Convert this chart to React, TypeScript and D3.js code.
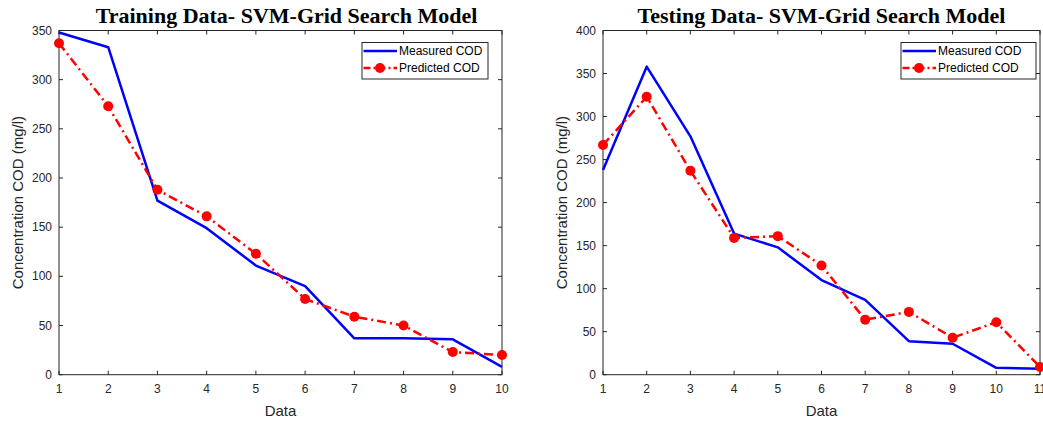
import React, { useEffect, useRef } from "react";
import * as d3 from "d3";

// values
const trainIdx = [1, 2, 3, 4, 5, 6, 7, 8, 9, 10];
const trainMeasured = [348, 333, 177, 149, 111, 90, 37, 37, 36, 8];
const trainPredicted = [337, 273, 188, 161, 123, 77, 59, 50, 23, 20];

const testIdx = [1, 2, 3, 4, 5, 6, 7, 8, 9, 10, 11];
const testMeasured = [238, 358, 277, 164, 148, 110, 87, 39, 36, 8, 7];
const testPredicted = [267, 323, 237, 159, 161, 127, 64, 73, 43, 61, 9];

const trainYTicks = [0, 50, 100, 150, 200, 250, 300, 350];
const testYTicks = [0, 50, 100, 150, 200, 250, 300, 350, 400];

const seriesNames = ["Measured COD", "Predicted COD"];

const SANS = "'Liberation Sans', Arial, sans-serif";
const SERIF = "'Liberation Serif', 'Times New Roman', serif";

type Panel = {
  title: string;
  idx: number[];
  measured: number[];
  predicted: number[];
  yMax: number;
  yTicks: number[];
  left: number;
  right: number;
};

const panels: Panel[] = [
  {
    title: "Training Data- SVM-Grid Search Model",
    idx: trainIdx,
    measured: trainMeasured,
    predicted: trainPredicted,
    yMax: 350,
    yTicks: trainYTicks,
    left: 59,
    right: 502,
  },
  {
    title: "Testing Data- SVM-Grid Search Model",
    idx: testIdx,
    measured: testMeasured,
    predicted: testPredicted,
    yMax: 400,
    yTicks: testYTicks,
    left: 603,
    right: 1040,
  },
];

const App = () => {
  const ref = useRef<SVGSVGElement>(null);

  useEffect(() => {
    const svg = d3.select(ref.current);
    svg.selectAll("*").remove();

    const top = 30.5;
    const bottom = 374.7;
    const axisColor = "#262626";

    panels.forEach((p, pi) => {
      const g = svg.append("g");
      const x = d3
        .scaleLinear()
        .domain([1, p.idx.length])
        .range([p.left, p.right]);
      const y = d3.scaleLinear().domain([0, p.yMax]).range([bottom, top]);

      // title
      g.append("text")
        .attr("x", (p.left + p.right) / 2 + (pi === 0 ? 6 : 0))
        .attr("y", 23)
        .attr("text-anchor", "middle")
        .style("font-family", SERIF)
        .style("font-weight", "bold")
        .style("font-size", "22px")
        .text(p.title);

      // box with inward ticks on all sides
      g.append("rect")
        .attr("x", p.left)
        .attr("y", top)
        .attr("width", p.right - p.left)
        .attr("height", bottom - top)
        .attr("fill", "white")
        .attr("stroke", axisColor)
        .attr("stroke-width", 1);

      const tl = 4;
      p.idx.forEach((d) => {
        g.append("line")
          .attr("x1", x(d)).attr("x2", x(d))
          .attr("y1", bottom).attr("y2", bottom - tl)
          .attr("stroke", axisColor);
        g.append("line")
          .attr("x1", x(d)).attr("x2", x(d))
          .attr("y1", top).attr("y2", top + tl)
          .attr("stroke", axisColor);
        g.append("text")
          .attr("x", x(d))
          .attr("y", bottom + 18)
          .attr("text-anchor", "middle")
          .style("font-family", SANS)
          .style("font-size", "12px")
          .attr("fill", axisColor)
          .text(d);
      });
      p.yTicks.forEach((d) => {
        g.append("line")
          .attr("x1", p.left).attr("x2", p.left + tl)
          .attr("y1", y(d)).attr("y2", y(d))
          .attr("stroke", axisColor);
        g.append("line")
          .attr("x1", p.right).attr("x2", p.right - tl)
          .attr("y1", y(d)).attr("y2", y(d))
          .attr("stroke", axisColor);
        g.append("text")
          .attr("x", p.left - 7)
          .attr("y", y(d) + 4)
          .attr("text-anchor", "end")
          .style("font-family", SANS)
          .style("font-size", "12px")
          .attr("fill", axisColor)
          .text(d);
      });

      // axis labels
      g.append("text")
        .attr("x", (p.left + p.right) / 2)
        .attr("y", 416)
        .attr("text-anchor", "middle")
        .style("font-family", SANS)
        .style("font-size", "15px")
        .attr("fill", axisColor)
        .text("Data");
      g.append("text")
        .attr("transform", `translate(${p.left - 36},${(top + bottom) / 2}) rotate(-90)`)
        .attr("text-anchor", "middle")
        .style("font-family", SANS)
        .style("font-size", "15px")
        .attr("fill", axisColor)
        .text("Concentration COD (mg/l)");

      const line = d3
        .line<number>()
        .x((_, i) => x(p.idx[i]))
        .y((d) => y(d));

      g.append("path")
        .attr("d", line(p.measured))
        .attr("fill", "none")
        .attr("stroke", "#0000ff")
        .attr("stroke-width", 2.5)
        .attr("stroke-linejoin", "round");

      g.append("path")
        .attr("d", line(p.predicted))
        .attr("fill", "none")
        .attr("stroke", "#ff0000")
        .attr("stroke-width", 2.5)
        .attr("stroke-dasharray", "9,4,2,4");

      g.selectAll("circle.pred")
        .data(p.predicted)
        .enter()
        .append("circle")
        .attr("class", "pred")
        .attr("cx", (_, i) => x(p.idx[i]))
        .attr("cy", (d) => y(d))
        .attr("r", 5)
        .attr("fill", "#ff0000");

      // legend
      const lw = pi === 0 ? 126 : 135;
      const lx = p.right - 14 - lw + (pi === 0 ? 0 : 10);
      const lg = g.append("g");
      lg.append("rect")
        .attr("x", lx)
        .attr("y", 42.5)
        .attr("width", lw)
        .attr("height", 36.5)
        .attr("fill", "white")
        .attr("stroke", axisColor);
      seriesNames.forEach((name, i) => {
        const ly = 51 + i * 17;
        lg.append("line")
          .attr("x1", lx + 1.5)
          .attr("x2", lx + 35)
          .attr("y1", ly)
          .attr("y2", ly)
          .attr("stroke", i === 0 ? "#0000ff" : "#ff0000")
          .attr("stroke-width", 2.5)
          .attr("stroke-dasharray", i === 0 ? null : "7,3,2,3");
        if (i === 1) {
          lg.append("circle")
            .attr("cx", lx + 18)
            .attr("cy", ly)
            .attr("r", 5)
            .attr("fill", "#ff0000");
        }
        lg.append("text")
          .attr("x", lx + 37)
          .attr("y", ly + 4)
          .style("font-family", SANS)
          .style("font-size", "12px")
          .attr("fill", "#000")
          .text(name);
      });
    });
  }, []);

  return (
    <svg
      ref={ref}
      width={1043}
      height={421}
      style={{ position: "absolute", left: 0, top: 0, background: "white" }}
    />
  );
};

export default App;
